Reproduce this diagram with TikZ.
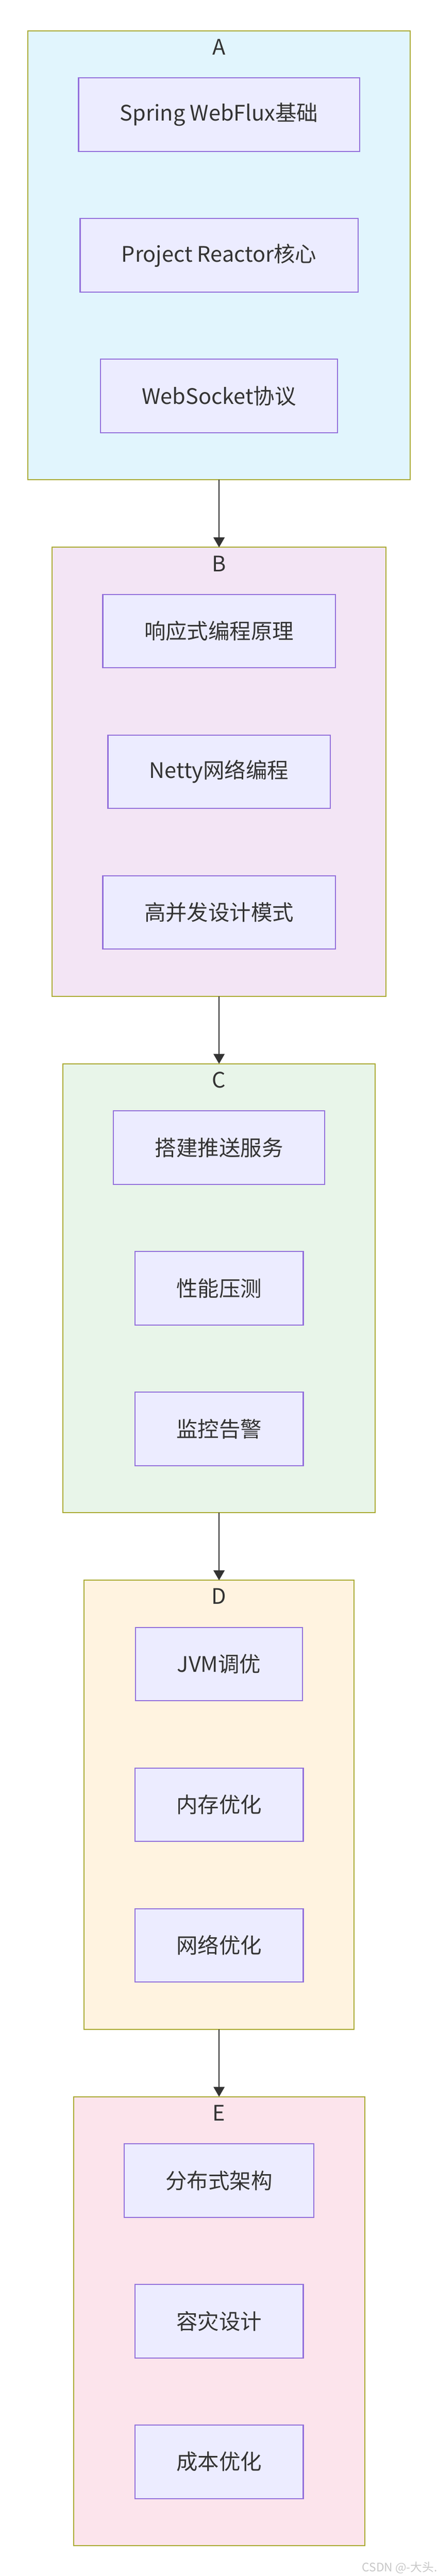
\documentclass[tikz,border=0pt]{standalone}
\usepackage{fontspec}
\setmainfont{Noto Sans CJK SC}
\usetikzlibrary{positioning,fit,backgrounds,arrows.meta}
\definecolor{txt}{HTML}{333333}
\definecolor{nodefill}{HTML}{ECECFF}
\definecolor{nodeline}{HTML}{9370DB}
\definecolor{clusterline}{HTML}{AAAA33}
\definecolor{fillA}{HTML}{E1F5FD}
\definecolor{fillB}{HTML}{F3E5F5}
\definecolor{fillC}{HTML}{E8F5E9}
\definecolor{fillD}{HTML}{FFF3E0}
\definecolor{fillE}{HTML}{FCE4EC}

\begin{document}
\begin{tikzpicture}[
  font=\fontsize{11.85}{14}\selectfont, text=txt,
  node distance=37.25pt,
  item/.style={draw=nodeline, fill=nodefill, line width=0.6pt, outer sep=0pt,
    minimum height=40.75pt, inner xsep=23pt},
  cluster/.style={draw=clusterline, line width=0.6pt, outer sep=0pt,
    inner xsep=28.125pt, inner ysep=26.125pt},
  link/.style={-{Triangle[length=5.5pt,width=6.2pt]}, draw=txt, line width=0.5pt}
]
\useasboundingbox (0,0) rectangle (242.75pt,-1429pt);

% A
\node[item] (a1) at (121.5pt,-63.625pt) {Spring WebFlux基础};
\node[item, below=of a1] (a2) {Project Reactor核心};
\node[item, below=of a2] (a3) {WebSocket协议};
% B
\node[item, below=89.75pt of a3] (b1) {响应式编程原理};
\node[item, below=of b1] (b2) {Netty网络编程};
\node[item, below=of b2] (b3) {高并发设计模式};
% C
\node[item, below=89.75pt of b3] (c1) {搭建推送服务};
\node[item, below=of c1] (c2) {性能压测};
\node[item, below=of c2] (c3) {监控告警};
% D
\node[item, below=89.75pt of c3] (d1) {JVM调优};
\node[item, below=of d1] (d2) {内存优化};
\node[item, below=of d2] (d3) {网络优化};
% E
\node[item, below=89.75pt of d3] (e1) {分布式架构};
\node[item, below=of e1] (e2) {容灾设计};
\node[item, below=of e2] (e3) {成本优化};

\begin{scope}[on background layer]
\node[cluster, fill=fillA, fit=(a1)(a2)(a3)] (A) {};
\node[cluster, fill=fillB, fit=(b1)(b2)(b3)] (B) {};
\node[cluster, fill=fillC, fit=(c1)(c2)(c3)] (C) {};
\node[cluster, fill=fillD, fit=(d1)(d2)(d3)] (D) {};
\node[cluster, fill=fillE, fit=(e1)(e2)(e3)] (E) {};
\end{scope}

\node (labA) at ([yshift=-9pt]A.north) {A};
\node (labB) at ([yshift=-9pt]B.north) {B};
\node (labC) at ([yshift=-9pt]C.north) {C};
\node (labD) at ([yshift=-9pt]D.north) {D};
\node (labE) at ([yshift=-9pt]E.north) {E};

\draw[link] (A) -- (B);
\draw[link] (B) -- (C);
\draw[link] (C) -- (D);
\draw[link] (D) -- (E);

\node[anchor=east, inner sep=0pt, text=black!22,
  font=\fontsize{6.5}{7}\selectfont] (mark) at (242.75pt,-1424.5pt) {CSDN @-大头.};
\end{tikzpicture}
\end{document}
